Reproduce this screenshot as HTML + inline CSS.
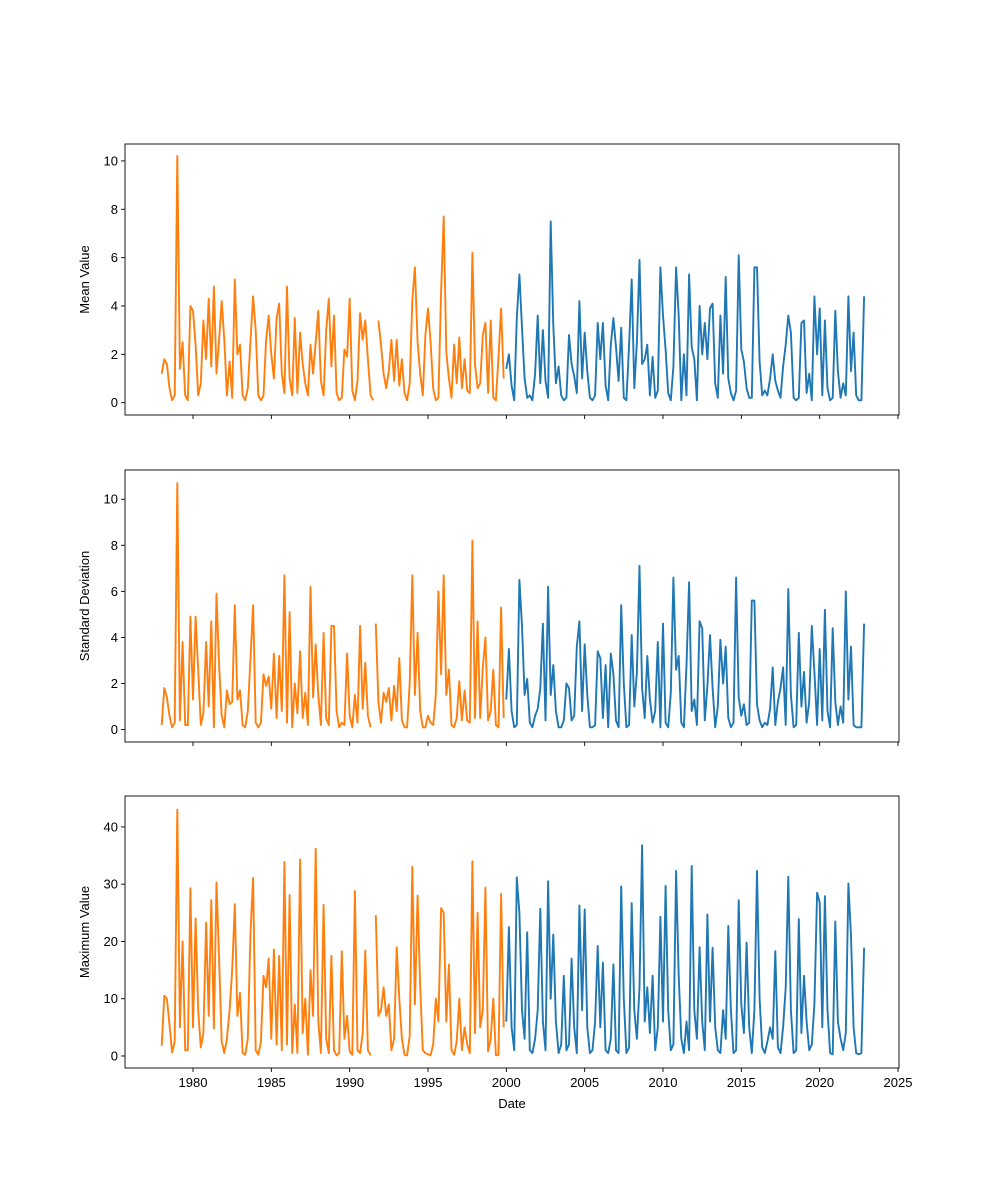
<!DOCTYPE html>
<html><head><meta charset="utf-8">
<style>
body{margin:0;background:#fff;}
svg{display:block;font-family:"Liberation Sans","DejaVu Sans",sans-serif;}
</style></head>
<body>
<svg id="chart" width="1000" height="1200" xmlns="http://www.w3.org/2000/svg"></svg>
<script>
// time series at 1/6-year steps; orange starts 1978.0, blue starts 2000.0
const orangeStart = 1978;
const blueStart = 2000;
const xTicks = [1980,1985,1990,1995,2000,2005,2010,2015,2020,2025];
const meanYTicks = [0,2,4,6,8,10];
const stdYTicks = [0,2,4,6,8,10];
const maxYTicks = [0,10,20,30,40];
const panelTitles = ["Mean Value","Standard Deviation","Maximum Value"];

const meanOrange = [
1.2,1.8,1.6,0.6,0.1,0.3, 10.2,1.4,2.5,0.3,0.1,4.0, 3.8,2.4,0.3,0.8,3.4,1.8,
4.3,1.5,4.8,1.2,2.6,4.2, 2.6,0.3,1.7,0.2,5.1,2.0, 2.4,0.3,0.1,0.6,2.5,4.4,
3.0,0.3,0.1,0.3,2.6,3.6, 2.0,1.0,3.5,4.1,1.2,0.4, 4.8,1.0,0.3,3.5,0.4,2.9,
1.6,0.8,0.3,2.4,1.2,2.5, 3.8,0.9,0.3,3.0,4.3,1.5, 3.6,0.4,0.1,0.2,2.2,1.9,
4.3,0.5,0.1,0.9,3.7,2.6, 3.4,1.8,0.3,0.1,null,3.4, 2.4,1.2,0.6,1.3,2.6,0.9,
2.6,0.7,1.8,0.4,0.1,0.8, 4.2,5.6,2.5,1.2,0.3,2.8, 3.9,2.5,0.6,0.1,0.2,4.6,
7.7,2.1,1.0,0.2,2.4,0.8, 2.7,0.6,1.8,0.5,0.4,6.2, 1.6,0.6,0.8,2.8,3.3,0.4,
3.4,0.2,0.1,1.9,3.9,1.0];
const meanBlue = [
1.4,2.0,0.7,0.1,3.5,5.3, 3.1,1.0,0.2,0.3,0.1,1.2, 3.6,0.8,3.0,0.9,0.2,7.5,
3.2,0.8,1.5,0.3,0.1,0.2, 2.8,1.6,1.1,0.4,4.2,1.0, 2.9,1.3,0.2,0.1,0.3,3.3,
1.8,3.3,0.7,0.1,2.4,3.5, 2.3,0.9,3.1,0.2,0.1,2.4, 5.1,0.6,2.5,5.9,1.6,1.8,
2.4,0.3,1.9,0.2,0.5,5.6, 3.6,2.2,0.4,0.1,1.5,5.6, 3.6,0.1,2.0,0.3,5.3,2.3,
1.8,0.1,4.0,2.0,3.3,1.8, 3.9,4.1,0.8,0.2,3.6,1.2, 5.2,1.0,0.4,0.1,0.5,6.1,
2.2,1.7,0.6,0.2,0.2,5.6, 5.6,1.7,0.3,0.5,0.3,1.0, 2.0,0.9,0.5,0.2,1.5,2.4,
3.6,2.9,0.2,0.1,0.2,3.3, 3.4,0.4,1.2,0.1,4.4,2.0, 3.9,0.3,3.4,0.6,0.1,0.2,
3.8,1.3,0.2,0.8,0.3,4.4, 1.3,2.9,0.3,0.1,0.1,4.4];

const stdOrange = [
0.2,1.8,1.4,0.6,0.1,0.3, 10.7,0.4,3.8,0.2,0.2,4.9, 1.3,4.9,2.6,0.2,0.7,3.8,
1.0,4.7,0.1,5.9,2.8,0.6, 0.1,1.7,1.1,1.2,5.4,1.3, 1.7,0.2,0.1,0.8,3.0,5.4,
0.3,0.1,0.3,2.4,1.9,2.3, 0.9,3.3,0.5,3.2,0.8,6.7, 0.3,5.1,0.1,2.0,0.7,3.4,
0.5,1.6,0.2,6.2,1.4,3.7, 1.5,0.2,4.2,0.5,0.2,4.5, 4.5,0.8,0.1,0.3,0.2,3.3,
0.6,0.1,1.5,0.3,4.5,0.9, 2.9,0.6,0.1,null,4.6,1.2, 0.3,1.6,1.2,1.8,0.4,1.9,
0.8,3.1,0.4,0.1,0.1,2.0, 6.7,1.5,4.2,0.8,0.1,0.1, 0.6,0.3,0.2,1.5,6.0,2.4,
6.7,1.5,2.6,0.2,0.1,0.5, 2.1,0.4,1.7,0.4,0.3,8.2, 0.5,4.7,0.5,2.7,4.0,0.4,
0.8,2.6,0.2,0.1,5.3,0.5];
const stdBlue = [
1.3,3.5,0.8,0.1,0.2,6.5, 4.5,1.5,2.2,0.3,0.1,0.6, 0.9,1.8,4.6,0.4,6.2,1.5,
2.8,0.8,0.1,0.1,0.4,2.0, 1.8,0.4,0.6,3.6,4.7,0.8, 3.7,1.5,0.1,0.1,0.2,3.4,
3.1,0.5,2.8,0.1,3.3,2.4, 0.4,0.1,5.4,2.0,0.1,0.2, 4.1,1.0,2.5,7.1,1.8,0.5,
3.2,1.3,0.3,0.8,3.8,0.1, 4.6,0.3,0.1,1.6,6.6,2.6, 3.2,0.3,0.1,2.8,6.4,0.8,
1.3,0.2,4.7,4.4,0.4,1.9, 4.1,1.8,0.1,1.0,3.9,2.0, 3.6,0.5,0.1,0.3,6.6,1.4,
0.6,1.1,0.2,0.3,5.6,5.6, 1.1,0.4,0.1,0.3,0.2,0.9, 2.7,0.2,1.2,1.8,2.7,0.2,
6.1,1.5,0.1,0.2,4.2,1.0, 2.5,0.3,1.2,4.5,2.5,0.2, 3.5,0.4,5.2,0.8,0.1,4.4,
1.2,0.2,1.0,0.3,6.0,1.3, 3.6,0.2,0.1,0.1,0.1,4.6];

const maxOrange = [
1.8,10.5,10,5.5,0.6,2.5, 43,5.0,20,1.0,1.0,29.3, 5.0,24,8,1.5,4.0,23.3,
7,27.2,4.8,30.3,17,2.5, 0.5,3,8,15,26.5,7, 11,0.5,0.2,3.0,21,31.1,
1.0,0.2,2.5,14,12,17, 3,18.6,2,17.5,1.0,33.9, 2,28.1,0.5,9,0.5,34.3,
4,10,0.2,15,7,36.2, 6,0.5,26.4,3,0.5,17.5, 1.0,0.1,0.5,18.3,3,7,
0.8,0.2,28.8,1,0.5,4, 18.4,1,0.1,null,24.6,7, 8,12,7,9,1,3,
19,10,3,0.2,0.1,3.5, 33,9,28,12,1,0.5, 0.3,0.1,2,10,6,25.8,
25,6,16,1,0.2,2.5, 10,1,5,2,0.5,34, 4,25,5,8,29.4,0.8,
3,10,0.1,0.2,28.3,5];
const maxBlue = [
6,22.5,5,1,31.2,25, 8,3,21.6,1,0.5,3, 8,25.7,6,1,30.5,10,
21.2,6,0.5,2,14,1, 2,17,5,0.5,26.3,8, 25.6,5,0.5,1,6,19.2,
5,16.3,1,0.5,3,16, 1,0.5,29.6,10,0.5,1.5, 26.7,8,3,12,36.8,6,
12,4,14,1,5,24.3, 6,29.7,8,1,2,32.3, 14,3,0.5,6,1,33.2,
8,3,19,6,1,24.7, 6,18.9,5,1,0.5,8, 3,22.7,8,0.5,1,27.2,
9,4,19.8,5,0.5,8, 32.3,10,1.5,0.5,2.5,5, 3,18.3,1.5,0.5,5,12,
31.3,8,0.5,1,23.9,4, 14,6,1,2,9,28.5, 26.8,5,27.9,8,0.5,0.3,
23.5,6,3,1,4,30.1, 20.9,5,0.5,0.3,0.5,18.9];

const NS = "http://www.w3.org/2000/svg";
const svg = document.getElementById("chart");
const L = 125, R = 899;
const panels = [
  {top:144,bottom:415,ymin:-0.51,ymax:10.7,ticks:meanYTicks,orange:meanOrange,blue:meanBlue,name:"mean"},
  {top:470,bottom:742,ymin:-0.54,ymax:11.27,ticks:stdYTicks,orange:stdOrange,blue:stdBlue,name:"std"},
  {top:796,bottom:1068,ymin:-2.1,ymax:45.4,ticks:maxYTicks,orange:maxOrange,blue:maxBlue,name:"max"}
];
function xScale(yr){ return 193 + (yr-1980)*(705/45); }
function mk(tag, attrs){ const e=document.createElementNS(NS,tag); for(const k in attrs) e.setAttribute(k,attrs[k]); return e; }

panels.forEach((p,pi)=>{
  const g = mk("g",{});
  
  
  svg.appendChild(g);
  const yS = v => p.bottom - (v-p.ymin)/(p.ymax-p.ymin)*(p.bottom-p.top);
  function series(vals,start,color,nm){
    let d="", pen=false;
    vals.forEach((v,i)=>{
      if(v===null){pen=false;return;}
      const x=xScale(start+i/6), y=yS(v);
      d += (pen?"L":"M")+x.toFixed(1)+","+y.toFixed(1);
      pen=true;
    });
    const path = mk("path",{d:d,fill:"none",stroke:color,"stroke-width":"1.9","stroke-linejoin":"round"});
    
    
    g.appendChild(path);
  }
  series(p.orange,orangeStart,"#ff7f0e",p.name+'-historical-line');
  series(p.blue,blueStart,"#1f77b4",p.name+'-recent-line');
  const frame = mk("rect",{x:L,y:p.top,width:R-L,height:p.bottom-p.top,fill:"none",stroke:"#000","stroke-width":"0.9"});
  
  
  g.appendChild(frame);
  p.ticks.forEach(t=>{
    const y=yS(t);
    const tk = mk("line",{x1:L-4,x2:L,y1:y,y2:y,stroke:"#000","stroke-width":"0.9"});
    
    
    g.appendChild(tk);
    const tx = mk("text",{x:L-7,y:y+4.5,"text-anchor":"end","font-size":"13"});
    tx.textContent = t;
    
    
    g.appendChild(tx);
  });
  xTicks.forEach(t=>{
    const x=xScale(t);
    const tk = mk("line",{x1:x,x2:x,y1:p.bottom,y2:p.bottom+4,stroke:"#000","stroke-width":"0.9"});
    
    
    g.appendChild(tk);
    if(pi===2){
      const tx = mk("text",{x:x,y:p.bottom+19,"text-anchor":"middle","font-size":"13"});
      tx.textContent = t;
      
      
      g.appendChild(tx);
    }
  });
  const cy=(p.top+p.bottom)/2;
  const yl = mk("text",{x:89,y:cy,"text-anchor":"middle","font-size":"13",transform:"rotate(-90 89 "+cy+")"});
  yl.textContent = panelTitles[pi];
  
  
  g.appendChild(yl);
});
const xl = mk("text",{x:512,y:1108,"text-anchor":"middle","font-size":"13"});
xl.textContent = "Date";


svg.appendChild(xl);
</script>
</body></html>
